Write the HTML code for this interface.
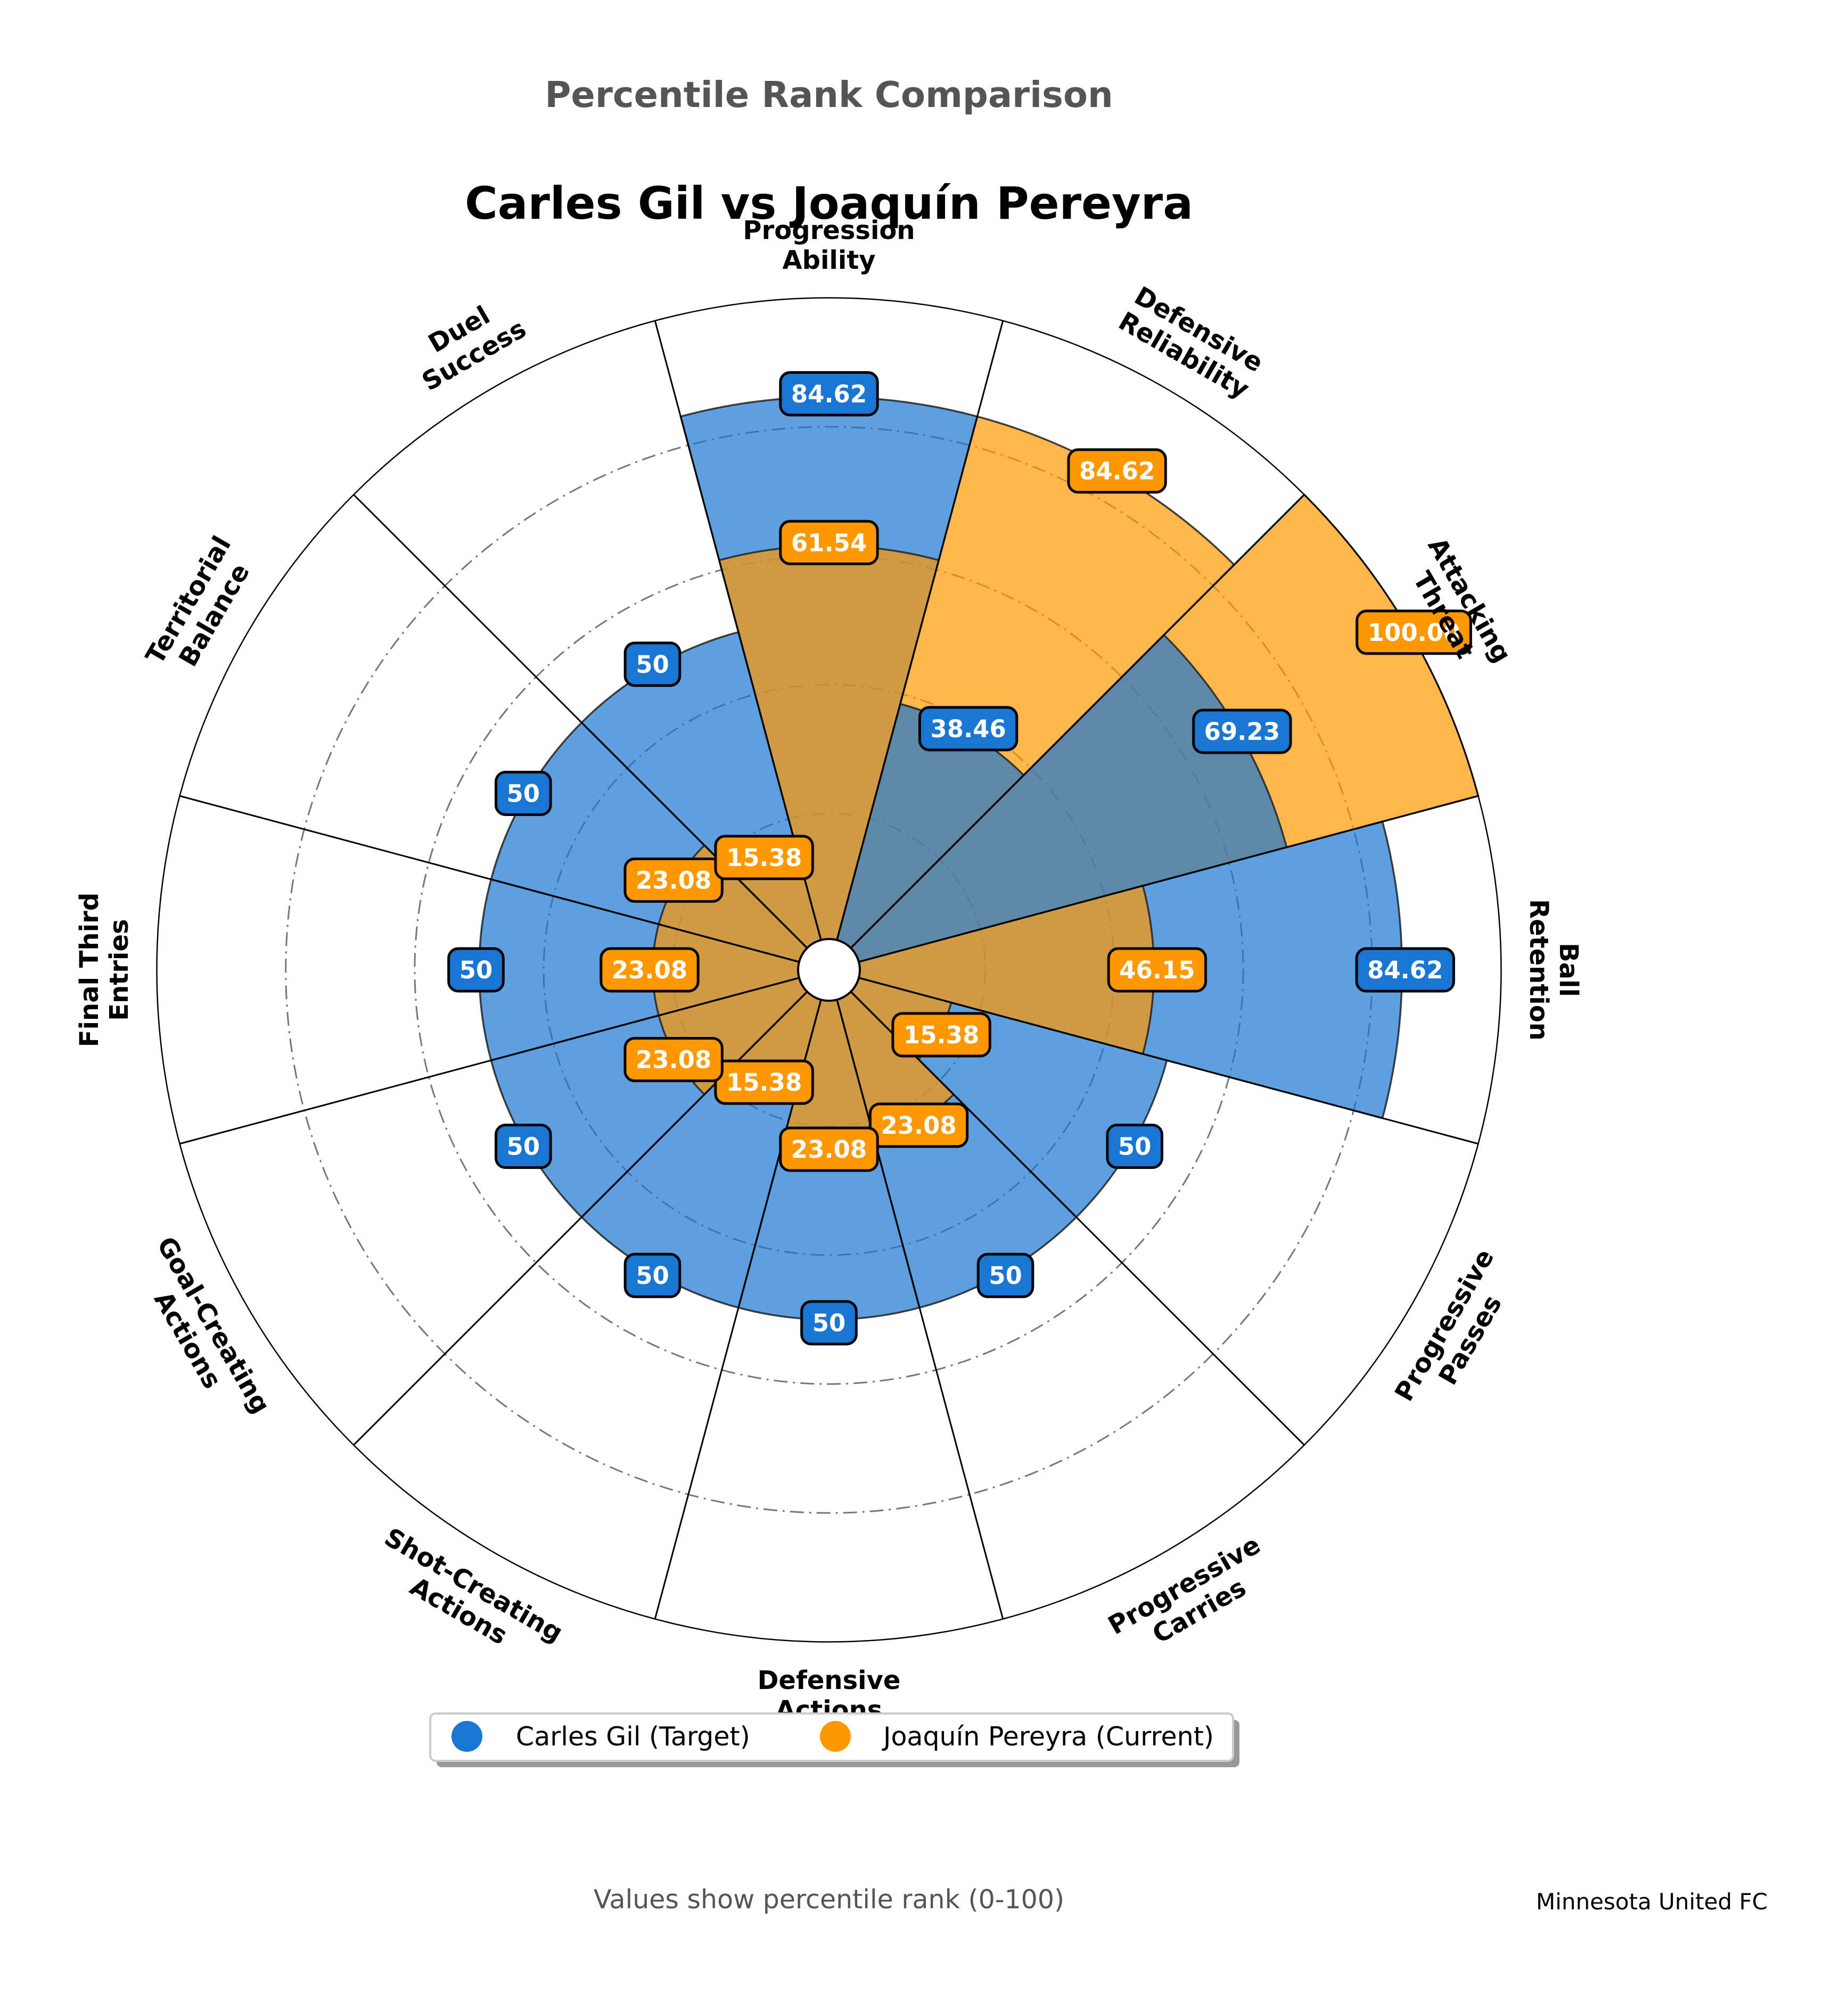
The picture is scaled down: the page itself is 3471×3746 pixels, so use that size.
<!DOCTYPE html>
<html><head><meta charset="utf-8"><style>
html,body{margin:0;padding:0;background:#fff;}
svg{display:block;font-family:"DejaVu Sans","Liberation Sans",sans-serif;}
</style></head><body>
<svg id="chart" xmlns="http://www.w3.org/2000/svg" width="3471" height="3746" viewBox="0 0 3471 3746">
<rect width="3471" height="3746" fill="#fff"/>
<text x="1557" y="201" text-anchor="middle" font-size="67" font-weight="bold" fill="#555">Percentile Rank Comparison</text>
<text x="1557" y="411" text-anchor="middle" font-size="84" font-weight="bold" fill="#000">Carles Gil vs Joaquín Pereyra</text>
<g id="grid"></g><g id="bars"></g><g id="spokes"></g><g id="vlabels"></g><g id="clabels"></g>
<g>
<rect x="820" y="3231" width="1508" height="89" rx="10" fill="#999"/>
<rect x="808" y="3219" width="1508" height="89" rx="10" fill="#fff" stroke="#ccc" stroke-width="4"/>
<circle cx="877" cy="3262" r="29" fill="#1976D2"/>
<text x="969" y="3279" font-size="49" fill="#000">Carles Gil (Target)</text>
<circle cx="1569" cy="3262" r="29" fill="#FF9800"/>
<text x="1659" y="3279" font-size="49" fill="#000">Joaquín Pereyra (Current)</text>
</g>
<text x="1557" y="3585" text-anchor="middle" font-size="49" fill="#555">Values show percentile rank (0-100)</text>
<text x="3320" y="3587" text-anchor="end" font-size="42" fill="#000">Minnesota United FC</text>
</svg>
<script>
const categories = ["Progression\nAbility","Defensive\nReliability","Attacking\nThreat","Ball\nRetention","Progressive\nPasses","Progressive\nCarries","Defensive\nActions","Shot-Creating\nActions","Goal-Creating\nActions","Final Third\nEntries","Territorial\nBalance","Duel\nSuccess"];
const gilValues = [84.62,38.46,69.23,84.62,50,50,50,50,50,50,50,50];
const pereyraValues = [61.54,84.62,100.00,46.15,15.38,23.08,23.08,15.38,23.08,23.08,23.08,15.38];
const gilLabels = ["84.62","38.46","69.23","84.62","50","50","50","50","50","50","50","50"];
const pereyraLabels = ["61.54","84.62","100.00","46.15","15.38","23.08","23.08","15.38","23.08","23.08","23.08","15.38"];
const gridTicks = [20,40,60,80];

const NS="http://www.w3.org/2000/svg";
const CX=1557, CY=1822, R0=51.5, K=12.11, LABEL_R=1362;
function rScale(v){return R0+K*v;}
function angleOf(i){return 90-30*i;}
function pt(r,deg){const a=deg*Math.PI/180;return [CX+r*Math.cos(a),CY-r*Math.sin(a)];}
function mk(tag,attrs,parent){const e=document.createElementNS(NS,tag);for(const k in attrs)e.setAttribute(k,attrs[k]);parent.appendChild(e);return e;}
const gGrid=document.getElementById('grid'),gBars=document.getElementById('bars'),gSp=document.getElementById('spokes'),gV=document.getElementById('vlabels'),gC=document.getElementById('clabels');

gridTicks.forEach(t=>{
  const c=mk('circle',{cx:CX,cy:CY,r:rScale(t),fill:'none',stroke:'#777','stroke-width':3,'stroke-dasharray':'26 10 4 10'},gGrid);
  
  
});

function wedge(r,i,fill,name){
  const th=angleOf(i),[x1,y1]=pt(r,th+15),[x2,y2]=pt(r,th-15);
  const p=mk('path',{d:`M${CX},${CY} L${x1},${y1} A${r},${r} 0 0 1 ${x2},${y2} Z`,fill:fill,'fill-opacity':0.7,stroke:'#222','stroke-opacity':0.85,'stroke-width':3.5},gBars);
  
  
}
categories.forEach((c,i)=>{
  const g=gilValues[i],p=pereyraValues[i];
  const items=[[g,'#1976D2','bar-gil-'+i],[p,'#FF9800','bar-pereyra-'+i]];
  items.sort((a,b)=>b[0]-a[0]);
  items.forEach(it=>wedge(rScale(it[0]),i,it[1],it[2]));
});

mk('circle',{cx:CX,cy:CY,r:rScale(100),fill:'none',stroke:'#000','stroke-width':2.5},gSp);
for(let i=0;i<12;i++){
  const [x,y]=pt(rScale(100),angleOf(i)+15);
  const l=mk('line',{x1:CX,y1:CY,x2:x,y2:y,stroke:'#000','stroke-width':3},gSp);
  
  
}
const hole=mk('circle',{cx:CX,cy:CY,r:58,fill:'#fff',stroke:'#000','stroke-width':4},gSp);



function valueLabel(v,txt,i,color,name){
  const [x,y]=pt(rScale(v)+6,angleOf(i));
  const g=mk('g',{},gV);
  
  
  const rect=mk('rect',{fill:color,stroke:'#000','stroke-width':5,rx:18},g);
  const t=mk('text',{x:x,y:y+16,'text-anchor':'middle','font-size':45,'font-weight':'bold',fill:'#fff'},g);
  t.textContent=txt;
  const w=t.getComputedTextLength()+40;
  rect.setAttribute('x',x-w/2);rect.setAttribute('y',y-40);rect.setAttribute('width',w);rect.setAttribute('height',80);
}
categories.forEach((c,i)=>{
  valueLabel(gilValues[i],gilLabels[i],i,'#1976D2','value-label-gil-'+i);
  valueLabel(pereyraValues[i],pereyraLabels[i],i,'#FF9800','value-label-pereyra-'+i);
});

categories.forEach((c,i)=>{
  const th=angleOf(i);
  let n=((th%360)+360)%360; if(n>180)n-=360;
  const rot = n>=0 ? 90-n : -90-n;
  const [x,y]=pt(LABEL_R,th);
  const t=mk('text',{x:0,y:0,'text-anchor':'middle','font-size':48,'font-weight':'bold',fill:'#000',transform:`translate(${x},${y}) rotate(${rot})`},gC);
  
  
  const lines=c.split('\n');
  lines.forEach((ln,j)=>{const s=mk('tspan',{x:0,y:(j-(lines.length-1)/2)*56+17},t);s.textContent=ln;});
});
</script>
</body></html>
